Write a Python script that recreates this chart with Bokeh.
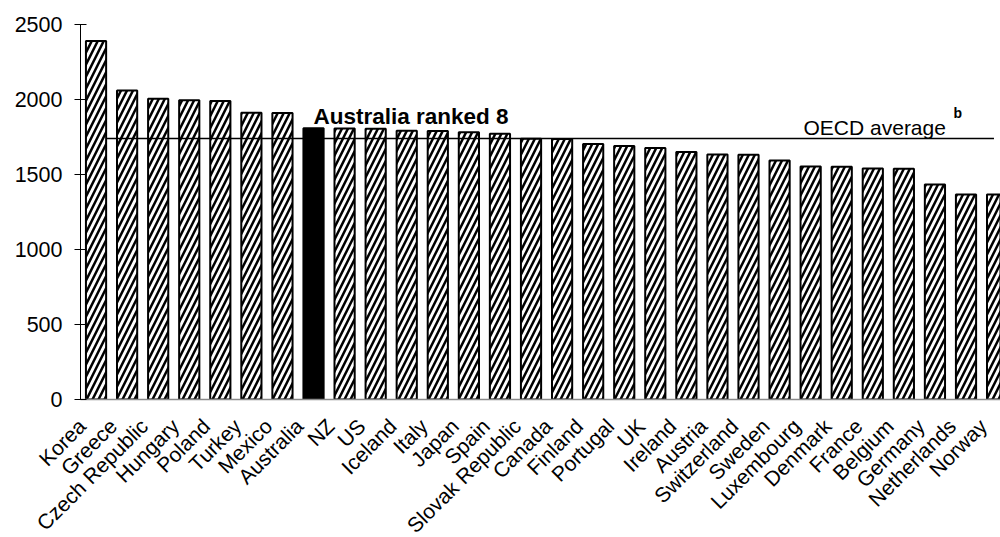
import math
from bokeh.plotting import figure
from bokeh.models import Range1d, FixedTicker, Label, ColumnDataSource, LinearAxis
from bokeh.embed import file_html
from bokeh.resources import INLINE

# Annual hours worked per person, OECD countries
countries = ["Korea", "Greece", "Czech Republic", "Hungary", "Poland", "Turkey",
             "Mexico", "Australia", "NZ", "US", "Iceland", "Italy", "Japan", "Spain",
             "Slovak Republic", "Canada", "Finland", "Portugal", "UK", "Ireland",
             "Austria", "Switzerland", "Sweden", "Luxembourg", "Denmark", "France",
             "Belgium", "Germany", "Netherlands", "Norway"]
hours = [2390, 2060, 2005, 1995, 1990, 1912, 1910, 1808, 1806, 1805, 1792, 1790,
         1782, 1772, 1738, 1736, 1704, 1690, 1676, 1650, 1633, 1632, 1593, 1553,
         1552, 1540, 1539, 1433, 1367, 1366]
oecd_average = 1740
y_ticks = [0, 500, 1000, 1500, 2000, 2500]
highlight = "Australia"

FONT = "Liberation Sans"

xs = list(range(len(countries)))
others = [i for i, c in enumerate(countries) if c != highlight]
hi = [i for i, c in enumerate(countries) if c == highlight]

src_other = ColumnDataSource(dict(x=[xs[i] for i in others], top=[hours[i] for i in others]))
src_hi = ColumnDataSource(dict(x=[xs[i] for i in hi], top=[hours[i] for i in hi]))

X0, X1 = -0.5, 29.11
LABEL_SHIFT = 0.45  # country names sit slightly left of their bars

p = figure(frame_width=920, frame_height=375, output_backend="svg", toolbar_location=None,
           x_range=Range1d(X0, X1), y_range=Range1d(0, 2500),
           x_axis_location=None,
           min_border_left=80, min_border_right=0, min_border_top=24,
           min_border_bottom=0)
p.extra_x_ranges = {"names": Range1d(X0 + LABEL_SHIFT, X1 + LABEL_SHIFT)}
p.outline_line_color = None
p.xgrid.visible = False
p.ygrid.visible = False
p.background_fill_color = "white"

p.vbar(x="x", top="top", bottom=0, width=0.65, source=src_other,
       fill_color="white", line_color="black", line_width=2,
       hatch_pattern="/", hatch_color="black", hatch_scale=12, hatch_weight=2.5)
p.vbar(x="x", top="top", bottom=0, width=0.65, source=src_hi,
       fill_color="black", line_color="black", line_width=2)

# OECD average reference line
p.segment(x0=[0.35], y0=[oecd_average], x1=[28.9], y1=[oecd_average],
          line_color="black", line_width=1.6)

p.add_layout(Label(x=7, y=1885, text="Australia ranked 8", text_font=FONT,
                   text_font_size="22.5px", text_font_style="bold",
                   text_color="black", text_align="left", text_baseline="alphabetic"))
p.add_layout(Label(x=22.77, y=1815, text="OECD average", text_font=FONT,
                   text_font_size="21px", text_color="black",
                   text_align="left", text_baseline="alphabetic"))
p.add_layout(Label(x=27.6, y=1910, text="b", text_font=FONT,
                   text_font_size="14px", text_font_style="bold",
                   text_color="black", text_align="left", text_baseline="alphabetic"))

# y axis
ya = p.yaxis[0]
ya.ticker = FixedTicker(ticks=y_ticks)
ya.major_label_text_font = FONT
ya.major_label_text_font_size = "21.5px"
ya.major_label_text_color = "black"
ya.axis_line_color = "black"
ya.axis_line_width = 1
ya.major_tick_in = 6
ya.major_tick_out = 6
ya.major_tick_line_color = "black"
ya.minor_tick_line_color = None
ya.major_label_standoff = 12

# x axis with country names
xa = LinearAxis(x_range_name="names")
xa.ticker = FixedTicker(ticks=xs)
xa.major_label_overrides = {i: c for i, c in enumerate(countries)}
xa.major_label_orientation = math.pi / 4
xa.major_label_text_font = FONT
xa.major_label_text_font_size = "21px"
xa.major_label_text_color = "black"
xa.major_tick_line_color = None
xa.minor_tick_line_color = None
xa.axis_line_color = "#8a8a8a"
xa.axis_line_width = 1.5
xa.major_label_standoff = 17
p.add_layout(xa, "below")

open("out.html", "w").write(file_html(p, INLINE))
